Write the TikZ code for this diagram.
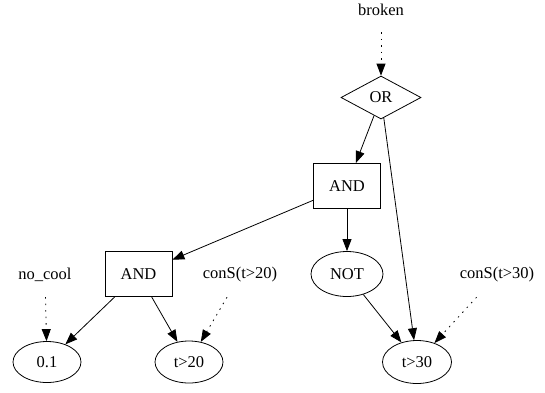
\documentclass[tikz,border=0pt]{standalone}
\usepackage{fontspec}
\setmainfont{Liberation Serif}
\usetikzlibrary{shapes.geometric,arrows.meta}
\begin{document}
\begin{tikzpicture}[x=1pt,y=-1pt,
  every node/.style={font=\fontsize{16.5}{20}\selectfont},
  gate/.style={draw,line width=0.8pt,rectangle,minimum width=67pt,minimum height=45pt,inner sep=0pt},
  orgate/.style={draw,line width=0.8pt,diamond,aspect=1.86,minimum width=80pt,minimum height=43pt,inner sep=0pt},
  event/.style={draw,line width=0.8pt,ellipse,minimum width=69pt,minimum height=43pt,inner sep=0pt},
  label/.style={draw=none,minimum height=44pt,inner sep=2pt},
  edge/.style={line width=0.8pt,-{Triangle[length=12pt,width=9pt]}},
  dotedge/.style={edge,dash pattern=on 1.5pt off 5pt}]
\useasboundingbox (0,0) rectangle (545,392);
\node[label] (broken) at (381,10) {broken};
\node[orgate] (or) at (381,97.5) {OR};
\node[gate] (and1) at (347,186) {AND};
\node[gate] (and2) at (138.5,274) {AND};
\node[event,minimum width=72pt,minimum height=45pt] (not) at (347,274) {NOT};
\node[label] (nocool) at (45,275) {no\_cool};
\node[label] (cons20) at (240,275) {conS(t>20)};
\node[label] (cons30) at (497,275) {conS(t>30)};
\node[event,minimum width=68pt,minimum height=41pt] (p01) at (47,362) {0.1};
\node[event,minimum width=68pt,minimum height=42pt] (t20) at (189,362) {t>20};
\node[event] (t30) at (417,362) {t>30};
\draw[dotedge] (broken) -- (or);
\draw[edge] (or) -- (and1);
\draw[edge] (or) -- (t30);
\draw[edge] (and1) -- (and2);
\draw[edge] (and1) -- (not);
\draw[edge] (and2) -- (p01);
\draw[edge] (and2) -- (t20);
\draw[edge] (not) -- (t30);
\draw[dotedge] (nocool) -- (p01);
\draw[dotedge] (cons20) -- (t20);
\draw[dotedge] (cons30) -- (t30);
\end{tikzpicture}
\end{document}
